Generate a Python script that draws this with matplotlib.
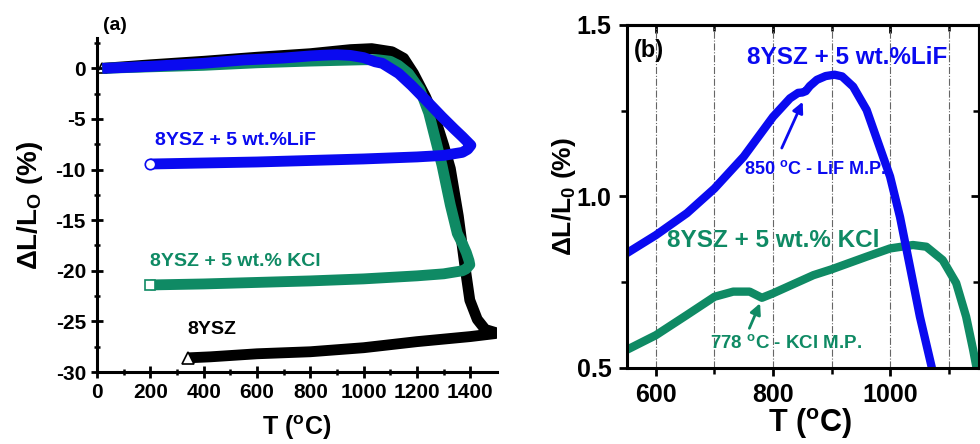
import matplotlib
matplotlib.use("Agg")
import matplotlib.pyplot as plt
import numpy as np

plt.rcParams['font.family'] = ['Liberation Sans', 'DejaVu Sans']
plt.rcParams['font.weight'] = 'bold'
plt.rcParams['axes.unicode_minus'] = False

BLUE = '#0a0af0'
GREEN = '#0f8a64'
BLACK = '#000000'

# ---------------- panel (a): full dilatometry runs ----------------
ysz_heat_T = [20, 200, 400, 600, 800, 950, 1030, 1106, 1150, 1187, 1232, 1270, 1300, 1325, 1355, 1380, 1398, 1426, 1456, 1494]
ysz_heat_v = [0, 0.35, 0.7, 1.1, 1.45, 1.85, 1.95, 1.64, 1.0, -0.5, -2.8, -5.1, -7.6, -9.9, -14.6, -19.6, -22.9, -24.8, -25.8, -26.1]
ysz_cool_T = [1494, 1400, 1200, 1000, 800, 600, 426, 343]
ysz_cool_v = [-26.2, -26.5, -27.0, -27.6, -28.0, -28.2, -28.5, -28.6]

kcl_heat_T = [20, 200, 400, 600, 800, 1000, 1050, 1100, 1130, 1168, 1211, 1244, 1270, 1294, 1325, 1351, 1370, 1385, 1395, 1398]
kcl_heat_v = [0, 0.15, 0.3, 0.55, 0.72, 0.85, 0.86, 0.7, 0.3, -0.5, -2.1, -4.4, -7.1, -9.6, -13.5, -16.3, -17.3, -18.2, -19.0, -19.4]
kcl_cool_T = [1398, 1385, 1370, 1300, 1200, 1000, 800, 600, 400, 200]
kcl_cool_v = [-19.4, -19.8, -20.0, -20.3, -20.5, -20.8, -21.0, -21.15, -21.3, -21.4]

lif_heat_T = [20, 200, 400, 550, 600, 700, 800, 850, 900, 950, 1000, 1043, 1070, 1131, 1180, 1232, 1294, 1340, 1370, 1402]
lif_heat_v = [0, 0.2, 0.5, 0.83, 0.89, 1.02, 1.23, 1.30, 1.35, 1.28, 1.06, 0.65, 0.5, -0.5, -1.7, -3.1, -4.8, -6.0, -6.75, -7.6]
lif_cool_T = [1402, 1390, 1370, 1300, 1200, 1000, 800, 600, 400, 200]
lif_cool_v = [-7.6, -8.0, -8.3, -8.6, -8.75, -8.95, -9.1, -9.25, -9.35, -9.45]

# ---------------- panel (b): zoom on heating 550-1150 C ----------------
lif_zoom_T = [550, 600, 653, 700, 750, 800, 829, 843, 850, 856, 863, 875, 890, 905, 918, 937, 960, 988, 1000, 1017, 1034, 1051, 1071, 1080]
lif_zoom_v = [0.834, 0.887, 0.951, 1.023, 1.116, 1.232, 1.286, 1.302, 1.303, 1.307, 1.322, 1.340, 1.351, 1.355, 1.350, 1.32, 1.252, 1.116, 1.058, 0.94, 0.795, 0.649, 0.503, 0.43]
kcl_zoom_T = [550, 600, 653, 700, 732, 760, 781, 800, 869, 900, 960, 1000, 1039, 1062, 1090, 1113, 1130, 1142, 1150, 1155]
kcl_zoom_v = [0.552, 0.595, 0.654, 0.707, 0.722, 0.722, 0.704, 0.717, 0.77, 0.787, 0.824, 0.848, 0.858, 0.853, 0.814, 0.747, 0.649, 0.552, 0.48, 0.43]

fig = plt.figure(figsize=(9.8, 4.44), dpi=100)

# ---------- (a) ----------
axa = fig.add_axes([97/980, (444-372)/444, 400/980, (372-38)/444])
lw_a = 7.8
kw = dict(solid_joinstyle='round', solid_capstyle='butt')
axa.plot(ysz_heat_T + ysz_cool_T, ysz_heat_v + ysz_cool_v, color=BLACK, lw=lw_a, zorder=2, **kw)
axa.plot(kcl_heat_T + kcl_cool_T, kcl_heat_v + kcl_cool_v, color=GREEN, lw=lw_a, zorder=3, **kw)
axa.plot(lif_heat_T + lif_cool_T, lif_heat_v + lif_cool_v, color=BLUE, lw=lw_a, zorder=4, **kw)
axa.plot([ysz_heat_T[0]], [ysz_heat_v[0]], marker='^', ms=7, mfc='white', mec=BLACK, mew=1.2, zorder=1)
axa.plot([ysz_cool_T[-1]], [ysz_cool_v[-1]], marker='^', ms=8, mfc='white', mec=BLACK, mew=1.2, zorder=5)
axa.plot([kcl_cool_T[-1]], [kcl_cool_v[-1]], marker='s', ms=7, mfc='white', mec=GREEN, mew=1.2, zorder=5)
axa.plot([lif_cool_T[-1]], [lif_cool_v[-1]], marker='o', ms=7.5, mfc='white', mec=BLUE, mew=1.2, zorder=5)

axa.set_xlim(0, 1500)
axa.set_ylim(-30, 3)
axa.set_xticks([0, 200, 400, 600, 800, 1000, 1200, 1400])
axa.set_xticks(np.arange(100, 1500, 200), minor=True)
axa.set_yticks([-30, -25, -20, -15, -10, -5, 0])
axa.set_yticks(np.arange(-27.5, 3, 5), minor=True)
for s in ['top', 'right']:
    axa.spines[s].set_visible(False)
for s in ['left', 'bottom']:
    axa.spines[s].set_linewidth(2.2)
    axa.spines[s].set_zorder(6)
axa.tick_params(which='major', direction='inout', length=8, width=2, labelsize=15, pad=4)
axa.tick_params(which='minor', direction='inout', length=5, width=1.8)
for lab in axa.get_xticklabels() + axa.get_yticklabels():
    lab.set_fontweight('bold')
axa.set_xlabel(r'T ($\mathregular{^o}$C)', fontsize=18, fontweight='bold')
axa.set_ylabel(r'ΔL/L$\mathregular{_O}$ (%)', fontsize=20, fontweight='bold')
axa.xaxis.set_label_coords(0.5, -0.125)
axa.yaxis.set_label_coords(-0.13, 0.5)

axa.text((155-97)/0.265, (68.3-140)/10.13, '8YSZ + 5 wt.%LiF', color=BLUE, fontsize=14,
         fontweight='bold', ha='left', va='center')
axa.text((150-97)/0.265, (68.3-262)/10.13, '8YSZ + 5 wt.% KCl', color=GREEN, fontsize=14,
         fontweight='bold', ha='left', va='center')
axa.text((187-97)/0.265, (68.3-330)/10.13, '8YSZ', color=BLACK, fontsize=14,
         fontweight='bold', ha='left', va='center')
fig.text(103/980, 1 - 25/444, '(a)', fontsize=14, fontweight='bold', ha='left', va='center')

# ---------- (b) ----------
axb = fig.add_axes([626.7/980, (444-367.7)/444, (979-626.7)/980, 342.7/444])
lw_b = 6.0
axb.plot(kcl_zoom_T, kcl_zoom_v, color=GREEN, lw=lw_b, solid_joinstyle='round', zorder=3)
axb.plot(lif_zoom_T, lif_zoom_v, color=BLUE, lw=lw_b, solid_joinstyle='round', zorder=4)
axb.set_xlim(550, 1152)
axb.set_ylim(0.5, 1.5)
axb.set_xticks([600, 800, 1000])
axb.set_xticks([700, 900, 1100], minor=True)
axb.set_yticks([0.5, 1.0, 1.5])
axb.set_yticks([0.75, 1.25], minor=True)
for s in axb.spines.values():
    s.set_linewidth(2.2)
    s.set_zorder(6)
axb.tick_params(which='major', direction='out', length=6, width=2, labelsize=18, pad=5)
axb.tick_params(which='minor', direction='out', length=4, width=1.8)
for lab in axb.get_xticklabels() + axb.get_yticklabels():
    lab.set_fontweight('bold')
axb.grid(True, axis='x', which='both', color='#666666', lw=0.8, ls='-.')
# mirrored inward ticks on top and right
sx = axb.secondary_xaxis('top')
sx.set_xticks([600, 800, 1000])
sx.set_xticks([700, 900, 1100], minor=True)
sx.tick_params(which='major', direction='in', length=6, width=2, labeltop=False)
sx.tick_params(which='minor', direction='in', length=4, width=1.8)
sx.spines['top'].set_linewidth(2.2)
sy = axb.secondary_yaxis('right')
sy.set_yticks([0.5, 1.0, 1.5])
sy.set_yticks([0.75, 1.25], minor=True)
sy.tick_params(which='major', direction='in', length=6, width=2, labelright=False)
sy.tick_params(which='minor', direction='in', length=4, width=1.8)
sy.spines['right'].set_linewidth(2.2)

axb.set_xlabel(r'T ($\mathregular{^o}$C)', fontsize=22, fontweight='bold')
axb.set_ylabel(r'ΔL/L$\mathregular{_0}$ (%)', fontsize=19, fontweight='bold')
axb.xaxis.set_label_coords(0.52, -0.112)
axb.yaxis.set_label_coords(-0.138, 0.5)

axb.text(0.02, 0.925, '(b)', transform=axb.transAxes, fontsize=17, fontweight='bold', ha='left', va='center')
axb.text(1152 - (979-947)/0.5865, 1.5 - (57-25)/342.7, '8YSZ + 5 wt.%LiF', color=BLUE, fontsize=17.5,
         fontweight='bold', ha='right', va='center')
axb.text(550.6 + (667-626.7)/0.5865, 1.5 - (240-25)/342.7, '8YSZ + 5 wt.% KCl', color=GREEN, fontsize=17.5,
         fontweight='bold', ha='left', va='center')
axb.text(872, 1.08, r'850 $\mathregular{^o}$C - LiF M.P.', color=BLUE, fontsize=13,
         fontweight='bold', ha='center', va='center')
axb.text(823, 0.572, r'778 $\mathregular{^o}$C - KCl M.P.', color=GREEN, fontsize=13.5,
         fontweight='bold', ha='center', va='center')
axb.annotate('', xy=(850.7, 1.276), xytext=(815, 1.141),
             arrowprops=dict(arrowstyle='-|>', color=BLUE, lw=2, mutation_scale=16, shrinkA=0, shrinkB=0))
axb.annotate('', xy=(777.9, 0.688), xytext=(759.6, 0.615),
             arrowprops=dict(arrowstyle='-|>', color=GREEN, lw=2, mutation_scale=16, shrinkA=0, shrinkB=0))

fig.savefig('out.png', dpi=100)
